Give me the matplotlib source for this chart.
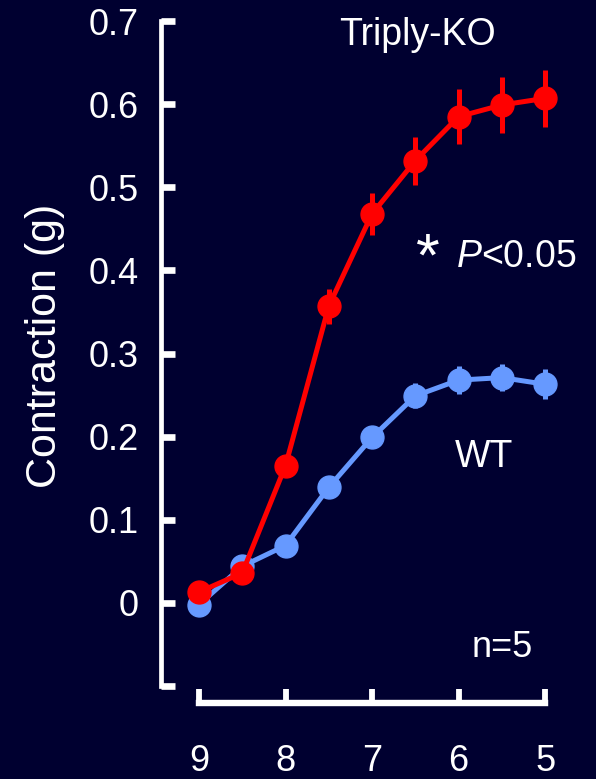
import matplotlib
matplotlib.use('Agg')
import matplotlib.pyplot as plt
from matplotlib.ticker import FixedLocator

plt.rcParams['font.family'] = ['Liberation Sans', 'DejaVu Sans']
plt.rcParams['mathtext.fontset'] = 'custom'
plt.rcParams['mathtext.rm'] = 'Liberation Sans'
plt.rcParams['mathtext.it'] = 'Liberation Sans:italic'

# data
ph = [9, 8.5, 8, 7.5, 7, 6.5, 6, 5.5, 5]
ko = [0.013, 0.036, 0.165, 0.357, 0.468, 0.532, 0.585, 0.599, 0.607]
ko_err = [0.004, 0.004, 0.006, 0.021, 0.025, 0.029, 0.033, 0.034, 0.034]
wt = [-0.002, 0.044, 0.069, 0.139, 0.199, 0.249, 0.268, 0.271, 0.263]
wt_err = [0.004, 0.004, 0.005, 0.008, 0.010, 0.015, 0.017, 0.016, 0.018]

y_ticks = [-0.1, 0, 0.1, 0.2, 0.3, 0.4, 0.5, 0.6, 0.7]
y_labels = ['', '0', '0.1', '0.2', '0.3', '0.4', '0.5', '0.6', '0.7']
x_ticks = [9, 8, 7, 6, 5]
x_labels = ['9', '8', '7', '6', '5']

bg = '#000030'
red = '#ff0000'
blue = '#6699ff'
fg = 'white'

fig = plt.figure(figsize=(5.96, 7.79), dpi=100, facecolor=bg)
ax = fig.add_axes([0.2701, 0.1194, 0.71, 0.8536], facecolor=bg)

ax.errorbar(ph, wt, yerr=wt_err, color=blue, lw=3.6, elinewidth=3.6, capsize=0,
            marker='o', ms=16.5, mec=blue, zorder=2)
ax.errorbar(ph, ko, yerr=ko_err, color=red, lw=3.6, elinewidth=3.6, capsize=0,
            marker='o', ms=16.5, mec=red, zorder=3)

ax.set_xlim(9.439, 4.549)
ax.set_ylim(-0.1, 0.7)

for s in ['top', 'right']:
    ax.spines[s].set_visible(False)
ax.spines['left'].set_bounds(-0.1, 0.7)
ax.spines['left'].set_linewidth(3.4)
ax.spines['left'].set_color(fg)
ax.spines['left'].set_capstyle('projecting')
ax.spines['bottom'].set_bounds(9, 5)
ax.spines['bottom'].set_position(('outward', 12.6))
ax.spines['bottom'].set_linewidth(4.6)
ax.spines['bottom'].set_color(fg)
ax.spines['bottom'].set_capstyle('projecting')

ax.yaxis.set_major_locator(FixedLocator(y_ticks))
ax.set_yticklabels(y_labels)
ax.xaxis.set_major_locator(FixedLocator(x_ticks))
ax.set_xticklabels(x_labels)
ax.tick_params(axis='y', direction='in', length=10, width=4.8, color=fg,
               labelcolor=fg, labelsize=26, pad=16)
ax.tick_params(axis='x', direction='in', length=10, width=4.2, color=fg,
               labelcolor=fg, labelsize=26, pad=29)

fig.text(45 / 596, 1 - 346 / 779, 'Contraction (g)', rotation=90, color=fg,
         fontsize=31, ha='center', va='center')

ax.text(6.48, 0.671, 'Triply-KO', color=fg, fontsize=27, ha='center', va='baseline')
ax.text(6.36, 0.394, '*', color=fg, fontsize=44, ha='center', va='baseline')
ax.text(5.33, 0.404, '$P$<0.05', color=fg, fontsize=27, ha='center', va='baseline')
ax.text(5.705, 0.163, 'WT', color=fg, fontsize=27, ha='center', va='baseline')
ax.text(5.49, -0.065, 'n=5', color=fg, fontsize=26, ha='center', va='baseline')

fig.savefig('out.png', dpi=100, facecolor=bg)
